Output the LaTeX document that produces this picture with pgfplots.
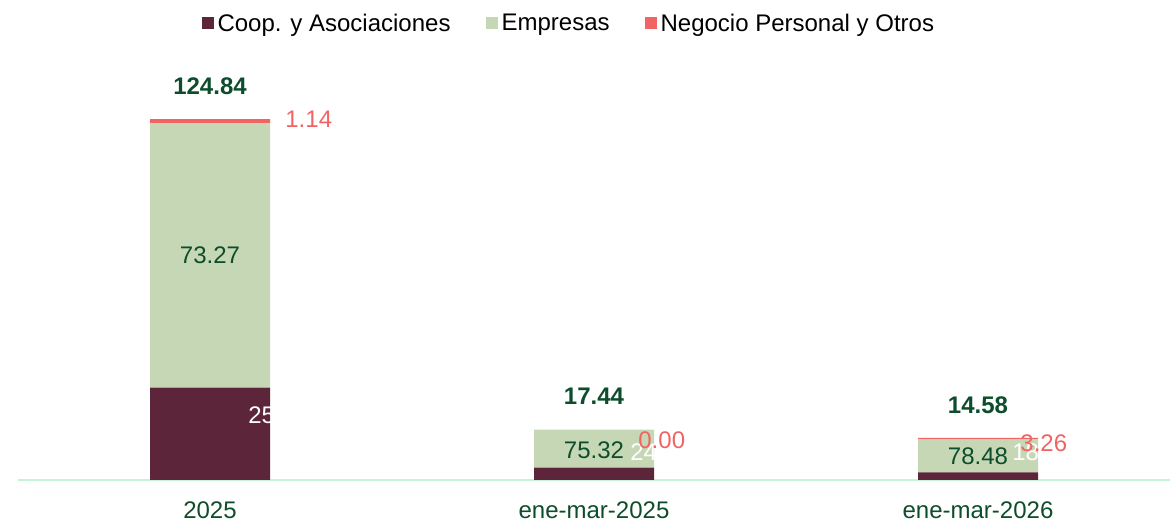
\documentclass[border=0pt]{standalone}
\usepackage{fontspec}
\setmainfont{Liberation Sans}
\usepackage{pgfplots}
\pgfplotsset{compat=1.18}

\definecolor{coop}{HTML}{5C2539}
\definecolor{empresas}{HTML}{C5D7B4}
\definecolor{negocio}{HTML}{F26363}
\definecolor{txtgreen}{HTML}{0E4D2B}
\definecolor{axisgreen}{HTML}{C3F5D8}

\begin{document}
\begin{tikzpicture}[lbl/.style={font=\fontsize{12}{14}\selectfont}]
% page = 1174 x 522 px at 0.5pt per px, axis origin at px (18,480)
\useasboundingbox (-9pt,-21pt) rectangle (578pt,240pt);
\begin{axis}[
    at={(0pt,0pt)}, anchor=south west,
    scale only axis,
    width=576pt,
    height=209.5pt,
    ybar stacked,
    bar width=60pt,
    xmin=-0.5, xmax=2.5,
    ymin=0, ymax=145,
    xtick=data,
    xticklabels={2025,ene-mar-2025,ene-mar-2026},
    xticklabel style={font=\fontsize{12}{14}\selectfont, text=txtgreen, anchor=base, yshift=-19.5pt},
    major tick length=0pt,
    ytick=\empty,
    axis x line*=bottom,
    axis y line=none,
    x axis line style={draw=axisgreen, line width=1pt, -},
    clip=false,
    legend style={
        at={(0.479,1.088)}, anchor=center,
        draw=none, fill=none,
        legend columns=-1,
        font=\fontsize{12}{14}\selectfont,
        /tikz/every even column/.append style={column sep=15.5pt},
    },
    legend image code/.code={\fill[#1] (-1.5pt,-2.5pt) rectangle (4.5pt,3.5pt);},
]
% segment heights = total x share
\addplot[fill=coop, draw=none] coordinates {(0,31.95) (1,4.30) (2,2.66)};
\addplot[fill=empresas, draw=none] coordinates {(0,91.47) (1,13.14) (2,11.44)};
\addplot[fill=negocio, draw=none] coordinates {(0,1.42) (1,0.00) (2,0.48)};
\legend{Coop. y Asociaciones, Empresas, Negocio Personal y Otros}

% label anchors
\coordinate (t0) at (axis cs:0,136.3);
\coordinate (t1) at (axis cs:1,28.9);
\coordinate (t2) at (axis cs:2,25.9);
\coordinate (e0) at (axis cs:0,77.7);
\coordinate (e1) at (axis cs:1,10.3);
\coordinate (e2) at (axis cs:2,8.2);
\coordinate (c0) at (axis cs:0,22.5);
\coordinate (c1) at (axis cs:1,9.7);
\coordinate (c2) at (axis cs:2,9.7);
\coordinate (n0) at (axis cs:0,124.9);
\coordinate (n1) at (axis cs:1,13.8);
\coordinate (n2) at (axis cs:2,12.8);
\end{axis}

% totals
\node[lbl, text=txtgreen, font=\fontsize{12}{14}\selectfont\bfseries] at (t0) {124.84};
\node[lbl, text=txtgreen, font=\fontsize{12}{14}\selectfont\bfseries] at (t1) {17.44};
\node[lbl, text=txtgreen, font=\fontsize{12}{14}\selectfont\bfseries] at (t2) {14.58};
% empresas shares
\node[lbl, text=txtgreen] at (e0) {73.27};
\node[lbl, text=txtgreen] at (e1) {75.32};
\node[lbl, text=txtgreen] at (e2) {78.48};
% coop shares (white, cut at bar edge)
\node[lbl, text=white, anchor=west, inner sep=0pt, xshift=19pt] at (c0) {25.59};
\node[lbl, text=white, anchor=west, inner sep=0pt, xshift=18pt] at (c1) {24.68};
\node[lbl, text=white, anchor=west, inner sep=0pt, xshift=17pt] at (c2) {18.26};
% negocio shares
\node[lbl, text=negocio, anchor=west, inner sep=0pt, xshift=37.5pt] at (n0) {1.14};
\node[lbl, text=negocio, anchor=west, inner sep=0pt, xshift=22pt] at (n1) {0.00};
\node[lbl, text=negocio, anchor=west, inner sep=0pt, xshift=21pt] at (n2) {3.26};
\end{tikzpicture}
\end{document}
